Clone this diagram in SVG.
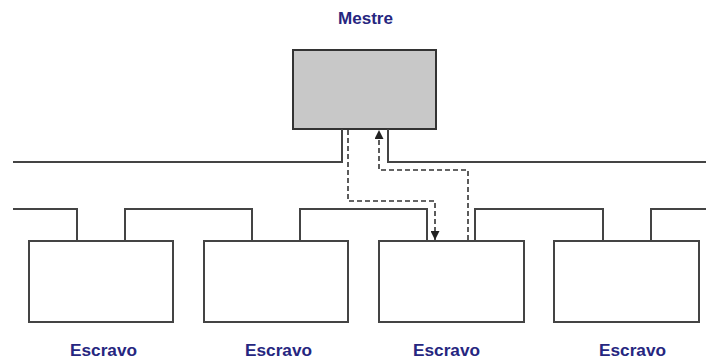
<svg xmlns="http://www.w3.org/2000/svg" width="706" height="360" viewBox="0 0 706 360">
  <defs>
    <marker id="arrow" viewBox="0 0 10 10" refX="10" refY="5" markerWidth="9" markerHeight="9" markerUnits="userSpaceOnUse" orient="auto">
      <path d="M0,0 L10,5 L0,10 z" fill="#222"/>
    </marker>
  </defs>
  <style>
    .bus { fill: none; stroke: #444; stroke-width: 2; }
    .node { fill: #fff; stroke: #444; stroke-width: 2; }
    .master { fill: #c8c8c8; stroke: #333; stroke-width: 2; }
    .flow { fill: none; stroke: #333; stroke-width: 1.6; stroke-dasharray: 5 3; }
    .label { font-family: "Liberation Sans", Arial, sans-serif; font-weight: bold; font-size: 16px; fill: #262680; }
  </style>
  <rect width="706" height="360" fill="#fff"/>

  <!-- master node -->
  <g id="mestre">
    <rect class="master" x="293" y="50" width="143" height="79"/>
    <text class="label" x="338" y="24" textLength="55" lengthAdjust="spacingAndGlyphs" fill="#2020a0">Mestre</text>
  </g>

  <!-- slave nodes -->
  <g id="escravo1">
    <rect class="node" x="29" y="241" width="144" height="81"/>
    <text class="label" x="70" y="356" textLength="67" lengthAdjust="spacingAndGlyphs">Escravo</text>
  </g>
  <g id="escravo2">
    <rect class="node" x="204" y="241" width="144" height="81"/>
    <text class="label" x="245" y="356" textLength="67" lengthAdjust="spacingAndGlyphs">Escravo</text>
  </g>
  <g id="escravo3">
    <rect class="node" x="379" y="241" width="145" height="81"/>
    <text class="label" x="413" y="356" textLength="67" lengthAdjust="spacingAndGlyphs">Escravo</text>
  </g>
  <g id="escravo4">
    <rect class="node" x="554" y="241" width="145" height="81"/>
    <text class="label" x="599" y="356" textLength="67" lengthAdjust="spacingAndGlyphs">Escravo</text>
  </g>

  <!-- bus wiring and message flow -->
  <g id="connectors">
    <!-- upper bus, looped through the master -->
    <path class="bus" d="M13,162 H342 V129"/>
    <path class="bus" d="M388,129 V162 H706"/>
    <!-- lower bus, looped through each slave -->
    <path class="bus" d="M13,209 H77 V241"/>
    <path class="bus" d="M125,241 V209 H252 V241"/>
    <path class="bus" d="M300,241 V209 H427 V241"/>
    <path class="bus" d="M475,241 V209 H603 V241"/>
    <path class="bus" d="M651,241 V209 H706"/>
    <!-- request: master to slave 3 -->
    <path class="flow" d="M348,130 V201 H435 V240" marker-end="url(#arrow)"/>
    <!-- response: slave 3 to master -->
    <path class="flow" d="M468,240 V170 H379 V130" marker-end="url(#arrow)"/>
  </g>
</svg>
